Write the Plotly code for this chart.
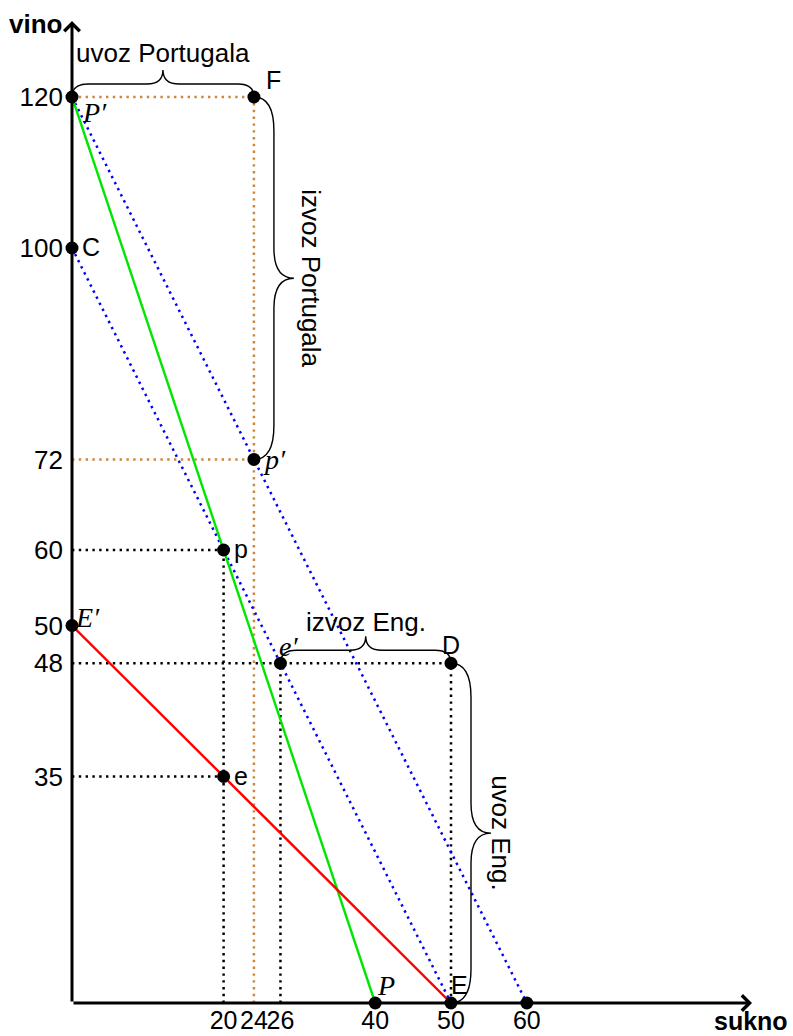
import plotly.graph_objects as go

# ---------------- data ----------------
# production possibility lines
port_ppf_x = [0, 40]
port_ppf_y = [120, 0]
eng_ppf_x = [0, 50]
eng_ppf_y = [50, 0]
# trade (price) lines
trade1_x = [0, 60]
trade1_y = [120, 0]
trade2_x = [0, 50]
trade2_y = [100, 0]

point_names = ["P′", "F", "C", "p′", "p", "E′", "e′", "D", "e", "P", "E", "Q60"]
point_x = [0, 24, 0, 24, 20, 0, 27.5, 50, 20, 40, 50, 60]
point_y = [120, 120, 100, 72, 60, 50, 45, 45, 30, 0, 0, 0]

x_tickvals = [20, 24, 27.5, 40, 50, 60]
x_ticktext = ["20", "24", "26", "40", "50", "60"]
y_tickvals = [120, 100, 72, 60, 50, 45, 30]
y_ticktext = ["120", "100", "72", "60", "50", "48", "35"]

brace_from = ["P′", "F", "e′", "D"]
brace_to = ["F", "p′", "D", "E"]
brace_text = ["uvoz Portugala", "izvoz Portugala", "izvoz Eng.", "uvoz Eng."]

h_guides = ["F", "p′", "p", "D", "e"]      # dotted line to the vino axis
v_guides = ["F", "p", "e′", "D"]           # dotted line to the sukno axis

# ---------------- styles ----------------
BROWN = "#CD853F"
GUIDE_COLOR = {"F": BROWN, "p′": BROWN}
MATH = {"P′", "p′", "E′", "e′", "P"}
LABEL_POS = {  # xanchor, xshift(px), yshift(px)
    "P′": ("left", 8, -15),
    "F": ("left", 10, 17),
    "C": ("left", 8, 1),
    "p′": ("left", 7, 0),
    "p": ("left", 8, 1),
    "E′": ("left", 1, 8),
    "e′": ("left", -3, 17),
    "D": ("center", 0, 18),
    "e": ("left", 8, 1),
    "P": ("left", 0, 18),
    "E": ("left", -2, 18),
}
KX, KY = 7.58, 7.55          # pixels per data unit
W, H = 793, 1036
ML, MB = 72, 33
SANS = "Liberation Sans, Arial, sans-serif"
SERIF = "Liberation Serif, Times New Roman, serif"

pt = {n: (x, y) for n, x, y in zip(point_names, point_x, point_y)}

fig = go.Figure()

dot = "2.4px,4.4px"
# guides
for n in h_guides:
    x, y = pt[n]
    fig.add_trace(go.Scatter(x=[0, x], y=[y, y], mode="lines", hoverinfo="skip",
                             line=dict(color=GUIDE_COLOR.get(n, "black"), width=2.5, dash=dot)))
for n in v_guides:
    x, y = pt[n]
    fig.add_trace(go.Scatter(x=[x, x], y=[0, y], mode="lines", hoverinfo="skip",
                             line=dict(color=GUIDE_COLOR.get(n, "black"), width=2.5, dash=dot)))
# trade lines
for xs, ys in [(trade1_x, trade1_y), (trade2_x, trade2_y)]:
    fig.add_trace(go.Scatter(x=xs, y=ys, mode="lines", hoverinfo="skip",
                             line=dict(color="#0000FF", width=2.5, dash=dot)))
# PPF lines
fig.add_trace(go.Scatter(x=port_ppf_x, y=port_ppf_y, mode="lines",
                         line=dict(color="#00E600", width=2.4)))
fig.add_trace(go.Scatter(x=eng_ppf_x, y=eng_ppf_y, mode="lines",
                         line=dict(color="#FF0000", width=2.4)))
# points
fig.add_trace(go.Scatter(x=point_x, y=point_y, mode="markers", cliponaxis=False,
                         marker=dict(color="black", size=13)))

annotations = []
# point labels
for n, (x, y) in pt.items():
    if n not in LABEL_POS:
        continue
    xa, xs, ys = LABEL_POS[n]
    if n in MATH:
        txt, fam, sz = "<i>" + n + "</i>", SERIF, 28
    else:
        txt, fam, sz = n, SANS, 25
    annotations.append(dict(x=x, y=y, xref="x", yref="y", text=txt, showarrow=False,
                            xanchor=xa, yanchor="middle", xshift=xs, yshift=ys,
                            font=dict(family=fam, size=sz, color="black")))


def hbrace(x1, x2, y, s=13, t=27, r=16, m=16):
    s /= KY; t /= KY; r /= KX; m /= KX
    xm = (x1 + x2) / 2
    return (f"M{x1},{y} Q{x1},{y+s} {x1+r},{y+s} L{xm-m},{y+s} "
            f"Q{xm},{y+s} {xm},{y+t} Q{xm},{y+s} {xm+m},{y+s} "
            f"L{x2-r},{y+s} Q{x2},{y+s} {x2},{y}")


def vbrace(x, y1, y2, s=20, t=40, r=34, m=30):
    s /= KX; t /= KX; r /= KY; m /= KY
    ym = (y1 + y2) / 2
    return (f"M{x},{y1} Q{x+s},{y1} {x+s},{y1-r} L{x+s},{ym+m} "
            f"Q{x+s},{ym} {x+t},{ym} Q{x+s},{ym} {x+s},{ym-m} "
            f"L{x+s},{y2+r} Q{x+s},{y2} {x},{y2}")


shapes = []
for a, b, txt in zip(brace_from, brace_to, brace_text):
    (x1, y1), (x2, y2) = pt[a], pt[b]
    if y1 == y2:
        path = hbrace(x1, x2, y1)
        yshift = 44 if y1 > 100 else 41
        annotations.append(dict(x=(x1 + x2) / 2, y=y1, xref="x", yref="y", text=txt,
                                showarrow=False, xanchor="center", yanchor="middle",
                                yshift=yshift, font=dict(family=SANS, size=26, color="black")))
    else:
        path = vbrace(x1, y1, y2)
        xshift = 57 if y1 > 100 else 50
        annotations.append(dict(x=x1, y=(y1 + y2) / 2, xref="x", yref="y", text=txt,
                                showarrow=False, xanchor="center", yanchor="middle",
                                xshift=xshift, textangle=90,
                                font=dict(family=SANS, size=26, color="black")))
    shapes.append(dict(type="path", path=path, xref="x", yref="y",
                       line=dict(color="black", width=1.4)))

# axes with arrows
x_tip = (752 - ML) / KX
y_tip = (H - MB - 21) / KY
for hx, hy in [(x_tip, 0), (0, y_tip)]:
    annotations.append(dict(x=hx, y=hy, ax=0, ay=0, xref="x", yref="y", axref="x", ayref="y",
                            text="", showarrow=True, arrowhead=4, arrowsize=1.0,
                            arrowwidth=3, arrowcolor="black"))

pw, ph = W - ML, H - MB
annotations.append(dict(x=(35 - ML) / pw, y=(ph - 24) / ph, xref="paper", yref="paper",
                        text="<b>vino</b>", showarrow=False, xanchor="center", yanchor="middle",
                        font=dict(family=SANS, size=26, color="black")))
annotations.append(dict(x=(751 - ML) / pw, y=(ph - 1021) / ph, xref="paper", yref="paper",
                        text="<b>sukno</b>", showarrow=False, xanchor="center", yanchor="middle",
                        font=dict(family=SANS, size=25, color="black")))

fig.update_layout(
    width=W, height=H, margin=dict(l=ML, r=0, t=0, b=MB, pad=0),
    plot_bgcolor="white", paper_bgcolor="white", showlegend=False,
    annotations=annotations, shapes=shapes,
    xaxis=dict(range=[0, pw / KX], showgrid=False, zeroline=False, showline=False,
               tickvals=x_tickvals, ticktext=x_ticktext, ticks="", tickangle=0,
               automargin=False,
               ticklabelstandoff=0, tickfont=dict(family=SANS, size=25, color="black")),
    yaxis=dict(range=[0, ph / KY], showgrid=False, zeroline=False, showline=False,
               tickvals=y_tickvals, ticktext=y_ticktext, ticks="", automargin=False,
               ticklabelstandoff=8, tickfont=dict(family=SANS, size=26, color="black")),
)

fig.write_html("out.html", config={"displayModeBar": False},
               post_script="document.body.style.margin='0';")
